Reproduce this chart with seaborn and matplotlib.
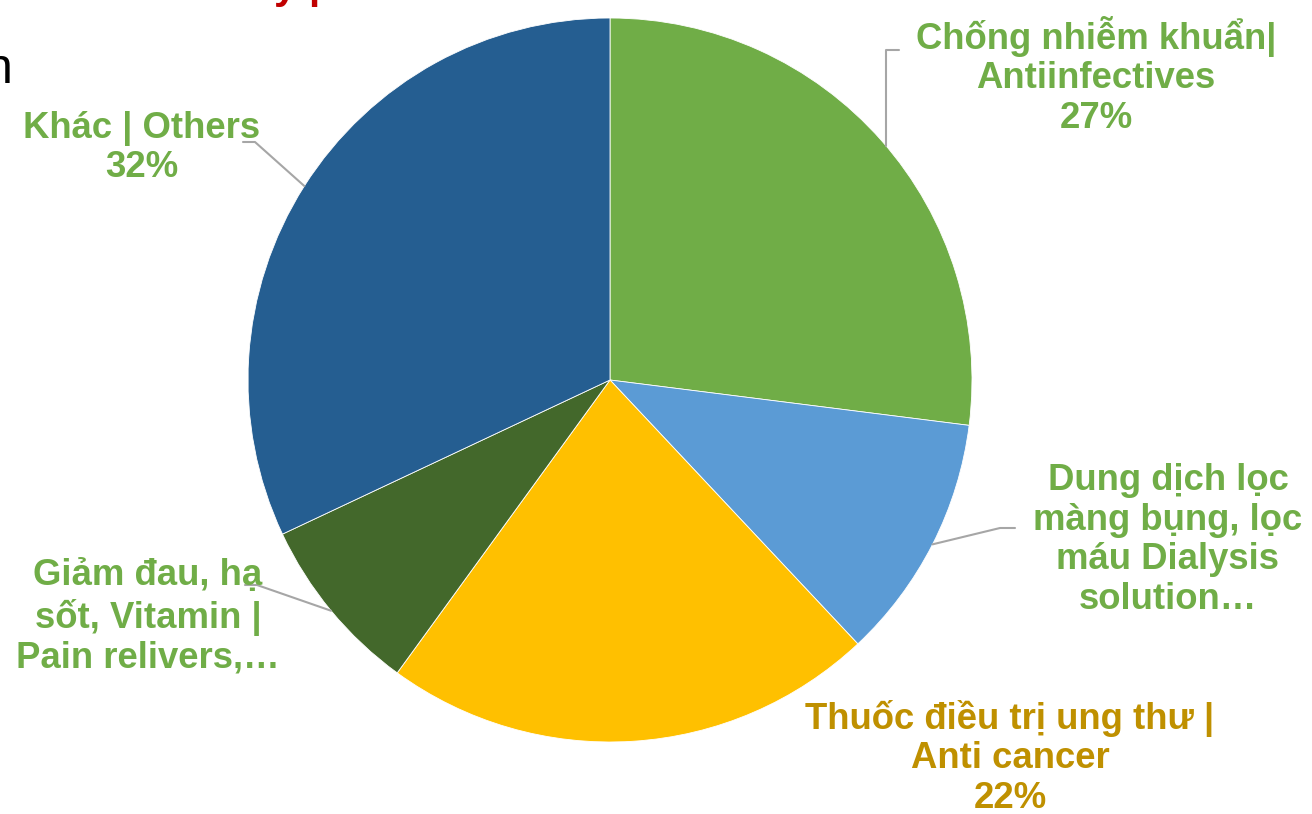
import matplotlib
matplotlib.use("Agg")
import matplotlib.pyplot as plt
import seaborn as sns
import numpy as np

sns.set_theme(style="white")
plt.rcParams['font.family'] = ['Liberation Sans', 'DejaVu Sans']

categories = [
    "Chống nhiễm khuẩn|\nAntiinfectives",
    "Dung dịch lọc\nmàng bụng, lọc\nmáu Dialysis\nsolution…",
    "Thuốc điều trị ung thư |\nAnti cancer",
    "Giảm đau, hạ\nsốt, Vitamin |\nPain relivers,…",
    "Khác | Others",
]
values = [27, 11, 22, 8, 32]
show_pct = [True, False, True, False, True]
slice_colors = ["#70AD47", "#5B9BD5", "#FFC000", "#43682B", "#255E91"]
label_colors = ["#70AD47", "#70AD47", "#BF9000", "#70AD47", "#70AD47"]

W, H = 1312, 814
fig = plt.figure(figsize=(W / 100, H / 100), dpi=100)
ax = fig.add_axes([0, 0, 1, 1])

cx, cy, R = 610, H - 380, 362
wedges, _ = ax.pie(values, colors=slice_colors, startangle=90, counterclock=False,
                   center=(cx, cy), radius=R,
                   wedgeprops=dict(edgecolor="white", linewidth=0.6))
ax.set_xlim(0, W)
ax.set_ylim(0, H)
ax.set_aspect('equal')
ax.axis('off')

# label positions (pixel coords from top-left)
label_pos = [(1096, 76), (1168, 540), (1010, 758), (148, 617), (142, 148)]
for cat, v, sp, col, (px, py) in zip(categories, values, show_pct, label_colors, label_pos):
    txt = cat + (f"\n{v}%" if sp else "")
    ax.text(px, H - py, txt, ha='center', va='center', fontsize=26.3,
            fontweight='bold', color=col, linespacing=1.18)

# leader lines
lc = "#A6A6A6"
mid_angles = []
cum = 0
total = sum(values)
for v in values:
    mid = 90 - 360 * (cum + v / 2) / total
    mid_angles.append(np.deg2rad(mid))
    cum += v

def edge(i):
    a = mid_angles[i]
    return cx + R * np.cos(a), cy + R * np.sin(a)

# Antiinfectives: vertical up then right
ax.plot([886, 886, 899], [H - 146, H - 50, H - 50], color=lc, lw=1.5)
# Dialysis
ex, ey = edge(1)
ax.plot([ex, 1000, 1015], [ey, H - 528, H - 528], color=lc, lw=1.5)
# Pain relievers
ex, ey = edge(3)
ax.plot([ex, 257, 245], [ey, H - 585, H - 585], color=lc, lw=1.5)
# Others
ex, ey = edge(4)
ax.plot([ex, 255, 243], [ey, H - 142, H - 142], color=lc, lw=1.5)

# cut-off fragments from surrounding slide
ax.text(274, H + 2, "y |", ha='left', va='baseline', fontsize=30,
        fontweight='bold', color="#C00000", clip_on=False)
ax.text(13, H - 83, "n", ha='right', va='baseline', fontsize=36, color="black")

fig.savefig("out.png", dpi=100, facecolor="white")
